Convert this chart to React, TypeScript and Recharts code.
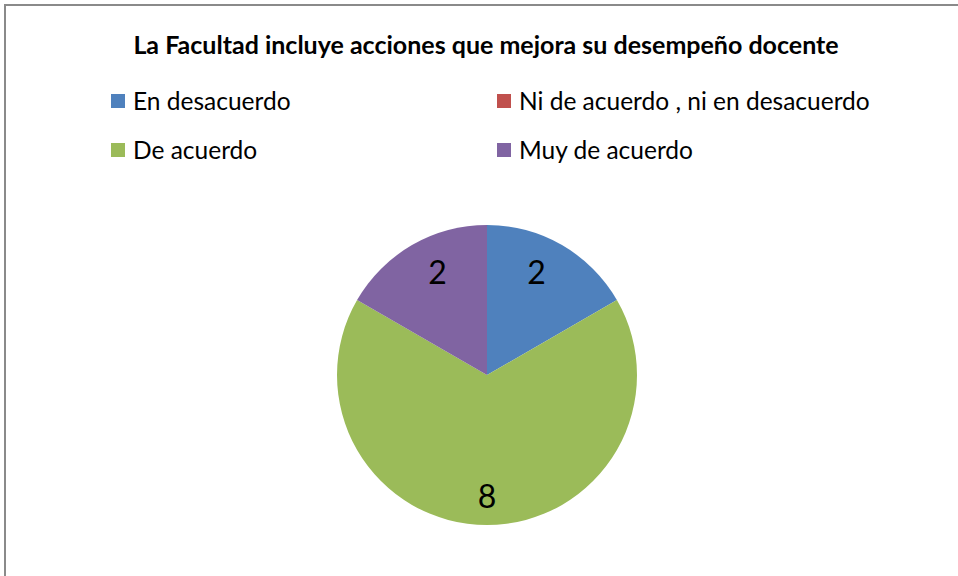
import { PieChart, Pie, Cell, Legend } from 'recharts'

// Respuestas a la pregunta sobre acciones de la Facultad.
const categories = ['En desacuerdo', 'Ni de acuerdo , ni en desacuerdo', 'De acuerdo', 'Muy de acuerdo']
const values = [2, 0, 8, 2]
const colors = ['#4F81BD', '#C0504D', '#9BBB59', '#8064A2']
const title = 'La Facultad incluye acciones que mejora su desempeño docente'

const data = categories.map((name, i) => ({ name, value: values[i] }))

const FONT = 'Lato, "Open Sans", sans-serif'
const RADIAN = Math.PI / 180

function renderLabel(props: any) {
  const { cx, cy, midAngle, outerRadius, value } = props
  if (!value) return null
  const x = cx + outerRadius * 0.66 * Math.cos(-midAngle * RADIAN)
  const y = cy + outerRadius * 0.8 * Math.sin(-midAngle * RADIAN)
  return (
    <text x={x} y={y} textAnchor="middle" dominantBaseline="central" fill="#000" fontSize={32} fontFamily={FONT}>
      {value}
    </text>
  )
}

// Leyenda en dos columnas, como en la hoja de cálculo.
function LegendGrid() {
  return (
    <div style={{ display: 'grid', gridTemplateColumns: '386px 420px', rowGap: 24, fontFamily: FONT }}>
      {data.map((d, i) => (
        <div key={d.name} style={{ display: 'flex', alignItems: 'center', height: 25 }}>
          <span style={{ width: 14, height: 14, background: colors[i], marginRight: 8, display: 'inline-block' }} />
          <span style={{ fontSize: 24.5, color: '#000', whiteSpace: 'nowrap' }}>{d.name}</span>
        </div>
      ))}
    </div>
  )
}

export default function App() {
  return (
    <div style={{ position: 'fixed', left: 0, top: 0, width: 958, height: 576, background: '#fff', overflow: 'hidden' }}>
      <div
        style={{
          position: 'absolute',
          left: 0,
          width: 972,
          top: 29,
          textAlign: 'center',
          fontFamily: FONT,
          fontWeight: 700,
          fontSize: 25,
          color: '#000',
        }}
      >
        {title}
      </div>
      <div style={{ position: 'absolute', left: 0, top: 0 }}>
        <PieChart width={958} height={576} margin={{ top: 0, right: 0, bottom: 0, left: 0 }}>
          <Legend content={<LegendGrid />} wrapperStyle={{ position: 'absolute', left: 111, top: 88, width: 820 }} />
          <Pie
            data={data}
            dataKey="value"
            nameKey="name"
            cx={487}
            cy={375}
            outerRadius={150}
            startAngle={90}
            endAngle={-270}
            stroke="none"
            label={renderLabel}
            labelLine={false}
            isAnimationActive={false}
          >
            {data.map((d, i) => (
              <Cell key={d.name} fill={colors[i]} />
            ))}
          </Pie>
        </PieChart>
      </div>
      <div
        style={{
          position: 'absolute',
          left: 4,
          top: 4,
          width: 970,
          height: 590,
          border: '2px solid #8a8a8a',
          pointerEvents: 'none',
        }}
      />
    </div>
  )
}
